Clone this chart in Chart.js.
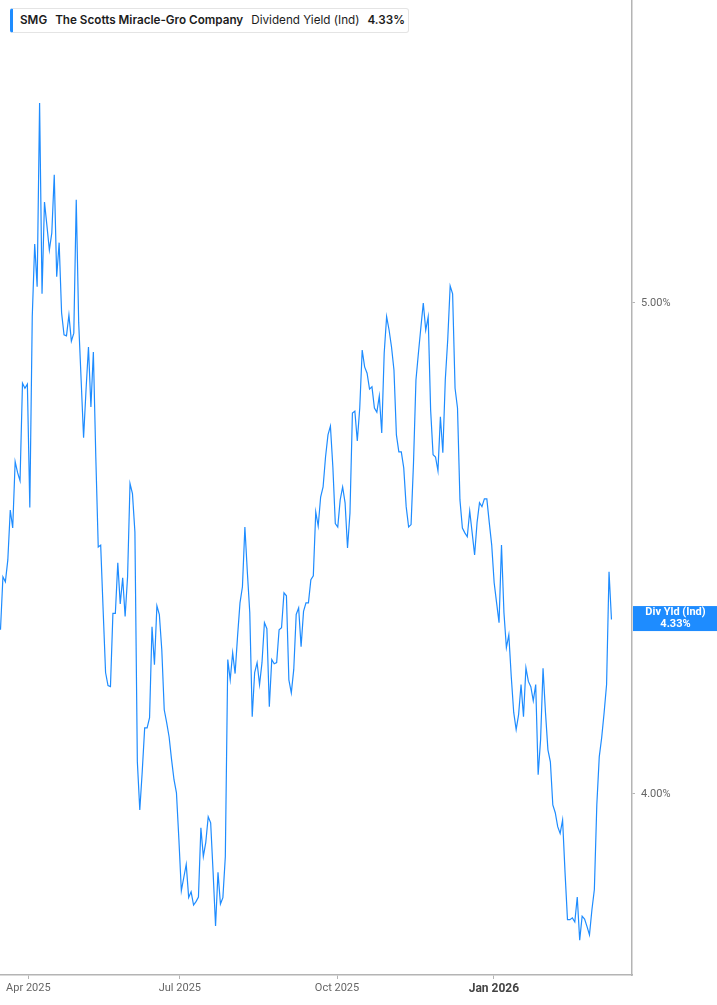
<!DOCTYPE html>
<html lang="en">
<head>
    <meta charset="UTF-8">
    <title>SMG Dividend Yield (Ind)</title>
    <style>
        body {
            margin: 0;
            background: #ffffff;
            font-family: "Inter", "Roboto", sans-serif;
        }

        .wrap {
            position: relative;
            width: 717px;
            height: 1005px;
        }

        .legend {
            position: absolute;
            left: 10px;
            top: 8px;
            height: 25px;
            width: 399px;
            box-sizing: border-box;
            border: 1px solid #e4e4e4;
            border-left: 3px solid #1e8cff;
            border-radius: 3px;
            background: #ffffff;
            font-size: 11.7px;
            line-height: 23px;
            color: #1c1c1c;
            padding-left: 7px;
            white-space: nowrap;
        }

        .legend span {
            margin-right: 8px;
        }

        .legend .b {
            font-weight: 600;
        }
    </style>
</head>
<body>
    <div class="wrap">
        <canvas id="yieldChart" width="717" height="1005"></canvas>
        <div class="legend">
            <span class="b" id="tkr"></span><span class="b" id="coName"></span><span id="metric"></span><span class="b" id="lastVal"></span>
        </div>
    </div>
    <script src="https://cdn.jsdelivr.net/npm/chart.js"></script>
    <script>
        var ticker = 'SMG';
        var companyName = 'The Scotts Miracle-Gro Company';
        var metricName = 'Dividend Yield (Ind)';
        var shortName = 'Div Yld (Ind)';

        // one value per trading day, mid-Mar 2025 .. mid-Mar 2026 (percent)
        var yieldValues = [
            4.310, 4.415, 4.405, 4.449, 4.551, 4.514, 4.652, 4.629, 4.612, 4.821,
            4.810, 4.819, 4.556, 4.969, 5.136, 5.037, 5.476, 5.021, 5.235, 5.179,
            5.122, 5.162, 5.300, 5.060, 5.139, 4.978, 4.928, 4.926, 4.973, 4.914,
            4.932, 5.240, 4.955, 4.828, 4.703, 4.806, 4.901, 4.769, 4.890, 4.662,
            4.475, 4.479, 4.349, 4.227, 4.202, 4.200, 4.342, 4.342, 4.443, 4.361,
            4.413, 4.336, 4.415, 4.606, 4.585, 4.506, 4.059, 3.971, 4.041, 4.122,
            4.122, 4.141, 4.316, 4.242, 4.357, 4.340, 4.271, 4.156, 4.132, 4.105,
            4.063, 4.026, 4.002, 3.918, 3.828, 3.851, 3.874, 3.816, 3.826, 3.803,
            3.809, 3.817, 3.939, 3.888, 3.913, 3.959, 3.948, 3.860, 3.767, 3.860,
            3.805, 3.816, 3.888, 4.252, 4.213, 4.265, 4.225, 4.297, 4.363, 4.395,
            4.516, 4.425, 4.344, 4.143, 4.227, 4.246, 4.204, 4.246, 4.324, 4.312,
            4.162, 4.252, 4.244, 4.246, 4.310, 4.314, 4.383, 4.377, 4.213, 4.188,
            4.233, 4.340, 4.353, 4.277, 4.346, 4.363, 4.363, 4.409, 4.417, 4.547,
            4.518, 4.578, 4.599, 4.662, 4.709, 4.728, 4.641, 4.523, 4.516, 4.572,
            4.599, 4.566, 4.473, 4.545, 4.756, 4.760, 4.696, 4.767, 4.894, 4.857,
            4.843, 4.808, 4.813, 4.767, 4.758, 4.793, 4.713, 4.887, 4.969, 4.939,
            4.901, 4.850, 4.709, 4.673, 4.673, 4.639, 4.558, 4.516, 4.521, 4.650,
            4.828, 4.887, 4.944, 5.000, 4.939, 4.969, 4.763, 4.667, 4.662, 4.633,
            4.748, 4.671, 4.828, 4.917, 5.039, 5.021, 4.810, 4.767, 4.572, 4.514,
            4.504, 4.496, 4.549, 4.504, 4.459, 4.525, 4.566, 4.558, 4.574, 4.574,
            4.525, 4.479, 4.403, 4.363, 4.324, 4.479, 4.344, 4.275, 4.300, 4.219,
            4.151, 4.119, 4.147, 4.204, 4.143, 4.236, 4.210, 4.200, 4.173, 4.204,
            4.035, 4.100, 4.235, 4.151, 4.081, 4.059, 3.980, 3.966, 3.941, 3.929,
            3.953, 3.860, 3.778, 3.778, 3.781, 3.774, 3.817, 3.743, 3.784, 3.779,
            3.766, 3.752, 3.795, 3.830, 3.980, 4.068, 4.104, 4.151, 4.204, 4.425,
            4.330
        ];

        // where each month label falls, in trading-day units
        var monthStartIndex = [11.4, 73.4, 137.7, 201.9];
        var monthLabels = ['Apr 2025', 'Jul 2025', 'Oct 2025', 'Jan 2026'];
        var yTickValues = [4, 5];

        var lineColor = '#1e8cff';
        var axisColor = '#b4b4b4';

        document.getElementById('tkr').innerText = ticker;
        document.getElementById('coName').innerText = companyName;
        document.getElementById('metric').innerText = metricName;
        var lastValue = yieldValues[yieldValues.length - 1];
        document.getElementById('lastVal').innerText = lastValue.toFixed(2) + '%';

        var points = yieldValues.map(function (v, i) {
            return { x: i, y: v };
        });

        // blue last-value tag on the right axis
        var lastTagPlugin = {
            id: 'lastTag',
            afterDraw: function (chart) {
                var ctx = chart.ctx;
                var area = chart.chartArea;
                var yPix = chart.scales.y.getPixelForValue(lastValue);
                var h = 25;
                ctx.save();
                ctx.fillStyle = lineColor;
                ctx.fillRect(area.right + 1, yPix - h / 2 - 1, chart.width - area.right - 1, h);
                ctx.fillStyle = '#ffffff';
                ctx.font = 'bold 11px Roboto, sans-serif';
                ctx.textAlign = 'center';
                ctx.textBaseline = 'middle';
                var cx = (area.right + chart.width) / 2 + 1;
                ctx.fillText(shortName, cx, yPix - 7);
                ctx.fillText(lastValue.toFixed(2) + '%', cx, yPix + 5);
                ctx.restore();
            }
        };

        var ctx = document.getElementById('yieldChart').getContext('2d');
        var yieldChart = new Chart(ctx, {
            type: 'line',
            data: {
                datasets: [{
                    label: metricName,
                    data: points,
                    borderColor: lineColor,
                    borderWidth: 1.2,
                    pointRadius: 0,
                    tension: 0,
                    fill: false
                }]
            },
            options: {
                responsive: false,
                animation: false,
                layout: { padding: 0 },
                plugins: {
                    legend: { display: false },
                    tooltip: { enabled: false }
                },
                scales: {
                    x: {
                        type: 'linear',
                        min: -0.2,
                        max: 258.4,
                        grid: {
                            drawOnChartArea: false,
                            drawTicks: true,
                            tickLength: 4,
                            color: axisColor
                        },
                        border: { display: true, color: axisColor, width: 1.5 },
                        afterBuildTicks: function (scale) {
                            scale.ticks = monthStartIndex.map(function (v) {
                                return { value: v };
                            });
                        },
                        afterFit: function (scale) {
                            scale.height = 30;
                            scale.paddingLeft = 0;
                            scale.paddingRight = 0;
                        },
                        ticks: {
                            autoSkip: false,
                            maxRotation: 0,
                            padding: 3,
                            callback: function (value, index) {
                                return monthLabels[index];
                            },
                            font: function (c) {
                                return c.index === 3
                                    ? { family: 'Roboto', size: 12, weight: 'bold' }
                                    : { family: 'Roboto', size: 11 };
                            },
                            color: function (c) {
                                return c.index === 3 ? '#444444' : '#666666';
                            }
                        }
                    },
                    y: {
                        type: 'logarithmic',
                        position: 'right',
                        min: 3.6841,
                        max: 5.7382,
                        grid: {
                            drawOnChartArea: false,
                            drawTicks: true,
                            tickLength: 3,
                            color: axisColor
                        },
                        border: { display: true, color: axisColor, width: 1.5 },
                        afterBuildTicks: function (scale) {
                            scale.ticks = yTickValues.map(function (v) {
                                return { value: v };
                            });
                        },
                        afterFit: function (scale) {
                            scale.width = 85;
                            scale.paddingTop = 0;
                            scale.paddingBottom = 0;
                        },
                        ticks: {
                            padding: 6,
                            color: '#666666',
                            font: { family: 'Roboto', size: 11 },
                            callback: function (value) {
                                return Number(value).toFixed(2) + '%';
                            }
                        }
                    }
                }
            },
            plugins: [lastTagPlugin]
        });
    </script>
</body>
</html>
